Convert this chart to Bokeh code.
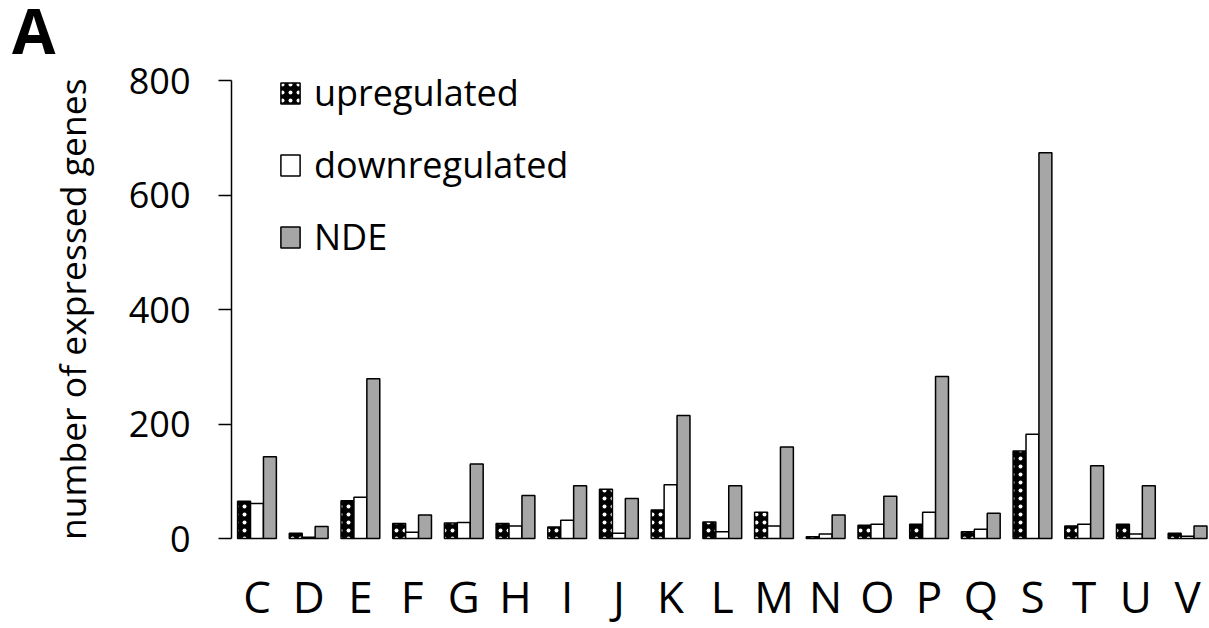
import numpy as np
from bokeh.plotting import figure
from bokeh.layouts import column
from bokeh.models import (ColumnDataSource, Range1d, FixedTicker, Legend, LegendItem, Div)
from bokeh.embed import file_html
from bokeh.resources import INLINE

categories = ["C", "D", "E", "F", "G", "H", "I", "J", "K", "L", "M", "N", "O", "P", "Q", "S", "T", "U", "V"]
upregulated = [65, 9, 66, 26, 27, 26, 20, 86, 50, 29, 46, 3, 23, 25, 12, 153, 22, 25, 9]
downregulated = [61, 2, 72, 11, 28, 22, 32, 9, 94, 12, 22, 8, 25, 46, 16, 182, 25, 8, 4]
nde = [143, 21, 279, 41, 130, 75, 92, 70, 215, 92, 160, 41, 74, 283, 44, 674, 127, 92, 22]
y_ticks = [0, 200, 400, 600, 800]

FONT = "Open Sans"
idx = np.arange(len(categories))
src = ColumnDataSource(dict(
    cat=categories,
    x_up=idx - 0.25, x_down=idx.astype(float), x_nde=idx + 0.25,
    up=upregulated, down=downregulated, nde=nde,
))

TOP_H = 54
FIG_H = 628 - TOP_H
PX_PER_UNIT = 458 / 800          # 800 units span 458 px
p = figure(width=1209, height=FIG_H, output_backend="svg", toolbar_location=None,
           x_range=Range1d(-0.493, 18.424),
           y_range=Range1d(-90 / PX_PER_UNIT, 800 + 26 / PX_PER_UNIT),
           min_border_left=231, min_border_right=0, min_border_top=0, min_border_bottom=0)
p.outline_line_color = None
p.grid.visible = False
p.background_fill_color = "white"
p.border_fill_color = "white"

bw = 0.25
r_up = p.vbar(x="x_up", top="up", width=bw, source=src, fill_color="black",
              line_color="black", line_width=1.5,
              hatch_pattern="dot", hatch_color="white", hatch_scale=8, hatch_weight=0.6)
r_down = p.vbar(x="x_down", top="down", width=bw, source=src, fill_color="white",
                line_color="black", line_width=1.5)
r_nde = p.vbar(x="x_nde", top="nde", width=bw, source=src, fill_color="#a6a6a6",
               line_color="black", line_width=1.5)

# y axis
ya = p.yaxis[0]
ya.ticker = FixedTicker(ticks=y_ticks)
ya.bounds = (0, 800)
ya.minor_tick_line_color = None
ya.major_tick_out = 13
ya.major_tick_in = 0
ya.axis_line_width = 1.5
ya.major_tick_line_width = 1.5
ya.major_label_text_font = FONT
ya.major_label_text_font_size = "36px"
ya.major_label_text_color = "black"
ya.major_label_standoff = 28
ya.axis_label = "\u00a0" * 7 + "number of expressed genes"
ya.axis_label_text_font = FONT
ya.axis_label_text_font_size = "35.5px"
ya.axis_label_text_font_style = "normal"
ya.axis_label_text_color = "black"
ya.axis_label_standoff = 30

# x axis (drawn at y = 0)
xa = p.xaxis[0]
xa.fixed_location = 0
xa.ticker = FixedTicker(ticks=list(range(len(categories))))
xa.major_label_overrides = {i: c for i, c in enumerate(categories)}
xa.axis_line_color = None
xa.major_tick_line_color = None
xa.minor_tick_line_color = None
xa.major_tick_out = 0
xa.major_tick_in = 0
xa.major_label_text_font = FONT
xa.major_label_text_font_size = "44px"
xa.major_label_text_color = "black"
xa.major_label_standoff = 27

legend = Legend(items=[
    LegendItem(label="upregulated", renderers=[r_up]),
    LegendItem(label="downregulated", renderers=[r_down]),
    LegendItem(label="NDE", renderers=[r_nde]),
], location=(47, 367))
legend.border_line_color = None
legend.background_fill_alpha = 0
legend.padding = 0
legend.margin = 0
legend.glyph_width = 24
legend.glyph_height = 26
legend.label_standoff = 12
legend.spacing = 23
legend.label_text_font = FONT
legend.label_text_font_size = "36px"
legend.label_text_color = "black"
p.add_layout(legend)

panel_label = Div(
    text=('<div style="font-family:\'Open Sans\'; font-size:63px; font-weight:bold; '
          'line-height:49px; padding-top:5px; padding-left:12px; color:black;">A</div>'),
    width=1209, height=TOP_H, margin=(0, 0, 0, 0))

layout = column(panel_label, p, spacing=0)
open("out.html", "w").write(file_html(layout, INLINE))
